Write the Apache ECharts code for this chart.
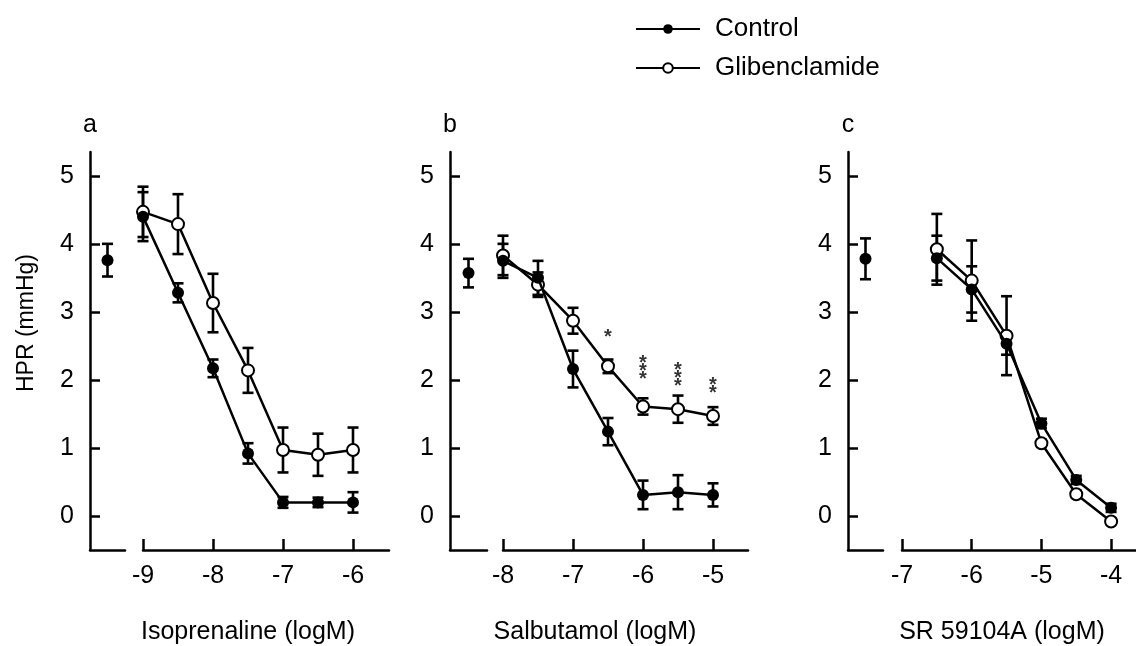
<!DOCTYPE html>
<html>
<head>
<meta charset="utf-8">
<script src="https://cdn.jsdelivr.net/npm/echarts@6/dist/echarts.min.js"></script>
<style>
  html, body { margin: 0; padding: 0; background: #fff; }
  #chart { width: 1136px; height: 646px; }
</style>
</head>
<body>
<div id="chart"></div>
<script>
// panel a - isoprenaline
const isoX = [-9, -8.5, -8, -7.5, -7, -6.5, -6];
const isoCtrl = [4.40, 3.28, 2.17, 0.92, 0.20, 0.20, 0.20];
const isoCtrlErr = [0.36, 0.14, 0.13, 0.15, 0.08, 0.07, 0.15];
const isoGlib = [4.47, 4.29, 3.13, 2.14, 0.97, 0.90, 0.97];
const isoGlibErr = [0.37, 0.44, 0.43, 0.33, 0.33, 0.31, 0.33];
const isoBase = [3.76, 0.24];
const isoTicks = [-9, -8, -7, -6];

// panel b - salbutamol
const salX = [-8, -7.5, -7, -6.5, -6, -5.5, -5];
const salCtrl = [3.75, 3.50, 2.16, 1.24, 0.31, 0.35, 0.31];
const salCtrlErr = [0.25, 0.25, 0.27, 0.20, 0.21, 0.25, 0.17];
const salGlib = [3.83, 3.40, 2.87, 2.20, 1.61, 1.57, 1.47];
const salGlibErr = [0.29, 0.18, 0.19, 0.10, 0.12, 0.20, 0.13];
const salBase = [3.57, 0.21];
const salTicks = [-8, -7, -6, -5];
const salStars = [[-6.5, 2.62, '*'], [-6, 2.13, '***'], [-5.5, 2.02, '***'], [-5, 1.86, '**']];

// panel c - SR 59104A
const srX = [-6.5, -6, -5.5, -5, -4.5, -4];
const srCtrl = [3.79, 3.33, 2.53, 1.36, 0.53, 0.12];
const srCtrlErr = [0.33, 0.34, 0.16, 0.07, 0.06, 0.06];
const srGlib = [3.92, 3.46, 2.65, 1.07, 0.32, -0.08];
const srGlibErr = [0.52, 0.59, 0.58, 0.05, 0.05, 0.04];
const srBase = [3.78, 0.30];
const srTicks = [-7, -6, -5, -4];

const yTicks = [0, 1, 2, 3, 4, 5];
const font = '"Liberation Sans", Arial, sans-serif';

const chart = echarts.init(document.getElementById('chart'));

const gridTop = 152, gridH = 398;
const grids = [
  { left: 90, top: gridTop, width: 35, height: gridH },
  { left: 143, top: gridTop, width: 246, height: gridH },
  { left: 450, top: gridTop, width: 37, height: gridH },
  { left: 503, top: gridTop, width: 245, height: gridH },
  { left: 848, top: gridTop, width: 35, height: gridH },
  { left: 902, top: gridTop, width: 234, height: gridH }
];

const axisLine = { show: true, onZero: false, lineStyle: { color: '#000', width: 2.5 } };

function baseX(i) {
  return {
    type: 'category', gridIndex: i, data: ['base'], axisLine: axisLine,
    axisTick: { show: false }, axisLabel: { show: false }, splitLine: { show: false }
  };
}
function mainX(i, min, max, ticks) {
  return {
    type: 'value', gridIndex: i, min: min, max: max, axisLine: axisLine,
    axisTick: { show: true, inside: true, length: 11, customValues: ticks, lineStyle: { color: '#000', width: 2.5 } },
    axisLabel: { customValues: ticks, margin: 14, fontSize: 25, color: '#000', fontFamily: font },
    splitLine: { show: false }
  };
}
function yAx(i, visible) {
  return {
    type: 'value', gridIndex: i, min: -0.5, max: 5.35,
    axisLine: visible ? axisLine : { show: false },
    axisTick: { show: visible, inside: true, length: 10, customValues: yTicks, lineStyle: { color: '#000', width: 2.5 } },
    axisLabel: { show: visible, customValues: yTicks, margin: 16, fontSize: 25, color: '#000', fontFamily: font },
    splitLine: { show: false }
  };
}

function errSeries(xs, ys, es, gi) {
  return {
    type: 'custom', xAxisIndex: gi, yAxisIndex: gi, silent: true, z: 1,
    data: xs.map((x, i) => [x, ys[i], es[i]]),
    renderItem: function (params, api) {
      const x = api.value(0), y = api.value(1), e = api.value(2);
      const t = api.coord([x, y + e]);
      const b = api.coord([x, y - e]);
      const w = 5.5;
      const st = { stroke: '#000', lineWidth: 2.6 };
      return {
        type: 'group',
        children: [
          { type: 'line', shape: { x1: t[0], y1: t[1], x2: b[0], y2: b[1] }, style: st },
          { type: 'line', shape: { x1: t[0] - w, y1: t[1], x2: t[0] + w, y2: t[1] }, style: st },
          { type: 'line', shape: { x1: b[0] - w, y1: b[1], x2: b[0] + w, y2: b[1] }, style: st }
        ]
      };
    }
  };
}

function ctrlLine(xs, ys, gi) {
  return {
    name: 'Control', type: 'line', xAxisIndex: gi, yAxisIndex: gi, z: 3,
    data: xs.map((x, i) => [x, ys[i]]),
    symbol: 'circle', symbolSize: 12,
    itemStyle: { color: '#000' }, lineStyle: { color: '#000', width: 2.5 }
  };
}
function glibLine(xs, ys, gi) {
  return {
    name: 'Glibenclamide', type: 'line', xAxisIndex: gi, yAxisIndex: gi, z: 2,
    data: xs.map((x, i) => [x, ys[i]]),
    symbol: 'circle', symbolSize: 12,
    itemStyle: { color: '#fff', borderColor: '#000', borderWidth: 2 },
    lineStyle: { color: '#000', width: 2.5 }
  };
}
function baseSeries(b, gi) {
  return [
    errSeries([0], [b[0]], [b[1]], gi),
    {
      name: 'Control', type: 'scatter', xAxisIndex: gi, yAxisIndex: gi, z: 3,
      data: [[0, b[0]]], symbol: 'circle', symbolSize: 12,
      itemStyle: { color: '#000', opacity: 1 }
    }
  ];
}

const series = [
  ctrlLine(isoX, isoCtrl, 1), glibLine(isoX, isoGlib, 1),
  errSeries(isoX, isoCtrl, isoCtrlErr, 1), errSeries(isoX, isoGlib, isoGlibErr, 1),
  ...baseSeries(isoBase, 0),
  ctrlLine(salX, salCtrl, 3), glibLine(salX, salGlib, 3),
  errSeries(salX, salCtrl, salCtrlErr, 3), errSeries(salX, salGlib, salGlibErr, 3),
  ...baseSeries(salBase, 2),
  {
    type: 'scatter', xAxisIndex: 3, yAxisIndex: 3, symbolSize: 0, silent: true,
    data: salStars.map(s => ({ value: [s[0], s[1]], label: { formatter: s[2].split('').join('\n') } })),
    label: { show: true, position: 'inside', fontSize: 20, fontWeight: 'bold', lineHeight: 8, color: '#000', fontFamily: font }
  },
  glibLine(srX, srGlib, 5), ctrlLine(srX, srCtrl, 5),
  errSeries(srX, srCtrl, srCtrlErr, 5), errSeries(srX, srGlib, srGlibErr, 5),
  ...baseSeries(srBase, 4)
];

function txt(x, y, s, size, extra) {
  return Object.assign({
    type: 'text', x: x, y: y, silent: true,
    style: { text: s, font: size + 'px ' + font, fill: '#000', textAlign: 'center', textVerticalAlign: 'middle' }
  }, extra || {});
}

chart.setOption({
  animation: false,
  backgroundColor: '#fff',
  grid: grids,
  xAxis: [
    baseX(0), mainX(1, -9, -9 + 246 / 70, isoTicks),
    baseX(2), mainX(3, -8, -8 + 245 / 70, salTicks),
    baseX(4), mainX(5, -7, -7 + 234 / 69.7, srTicks)
  ],
  yAxis: [yAx(0, true), yAx(1, false), yAx(2, true), yAx(3, false), yAx(4, true), yAx(5, false)],
  legend: {
    data: ['Control', 'Glibenclamide'], orient: 'vertical', left: 630, top: 10,
    itemWidth: 64, itemHeight: 12, itemGap: 11, selectedMode: false,
    textStyle: { fontSize: 26, lineHeight: 28, color: '#000', fontFamily: font, padding: [0, 0, 0, 10] }
  },
  graphic: [
    txt(90, 125, 'a', 25), txt(450, 125, 'b', 25), txt(848, 125, 'c', 25),
    txt(248, 632, 'Isoprenaline (logM)', 25),
    txt(595, 632, 'Salbutamol (logM)', 25),
    txt(1002, 632, 'SR 59104A (logM)', 25),
    txt(27, 323, 'HPR (mmHg)', 23, { rotation: Math.PI / 2 })
  ],
  series: series
});
</script>
</body>
</html>
